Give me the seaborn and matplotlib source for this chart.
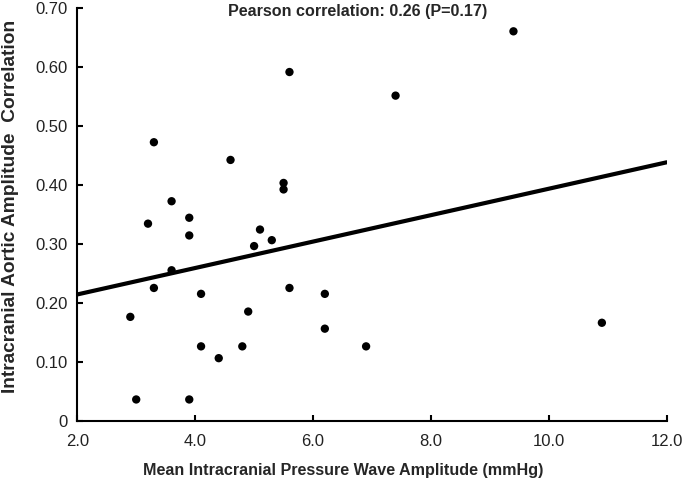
import numpy as np
import pandas as pd
import matplotlib
matplotlib.use("Agg")
import matplotlib.pyplot as plt
import seaborn as sns

# values
icp_amp = [5.6, 3.3, 4.6, 5.5, 5.5, 3.6, 3.2, 3.9, 3.9, 5.1, 5.3, 5.0,
           3.6, 3.3, 2.9, 4.1, 5.6, 6.2, 6.2, 4.9, 4.1, 4.4, 4.8, 3.0,
           3.9, 7.4, 9.4, 6.9, 10.9]
aortic_corr = [0.592, 0.473, 0.443, 0.404, 0.393, 0.373, 0.335, 0.345, 0.315,
               0.325, 0.307, 0.297, 0.256, 0.226, 0.177, 0.216, 0.226, 0.216,
               0.157, 0.186, 0.127, 0.107, 0.127, 0.037, 0.037, 0.552, 0.661,
               0.127, 0.167]
fit_x = [2.0, 12.0]
fit_y = [0.215, 0.439]

x_ticks = [2, 4, 6, 8, 10, 12]
x_ticklabels = ["2.0", "4.0", "6.0", "8.0", "10.0", "12.0"]
y_ticks = [0, 0.1, 0.2, 0.3, 0.4, 0.5, 0.6, 0.7]
y_ticklabels = ["0", "0.10", "0.20", "0.30", "0.40", "0.50", "0.60", "0.70"]

df = pd.DataFrame({"icp": icp_amp, "corr": aortic_corr})
fit = pd.DataFrame({"x": fit_x, "y": fit_y})

sns.set_theme(style="ticks")
plt.rcParams['font.family'] = ['Liberation Sans', 'DejaVu Sans']

fig = plt.figure(figsize=(6.85, 4.8), dpi=100)
ax = fig.add_axes([0.1128, 0.1223, 0.8605, 0.8604])

sns.lineplot(data=fit, x="x", y="y", ax=ax, color="black", linewidth=3.0)
sns.scatterplot(data=df, x="icp", y="corr", ax=ax, color="black", s=36,
                edgecolor="none", zorder=3)

ax.set_xlim(2, 12)
ax.set_ylim(0, 0.7)
ax.set_xticks(x_ticks)
ax.set_xticklabels(x_ticklabels)
ax.set_yticks(y_ticks)
ax.set_yticklabels(y_ticklabels)
ax.tick_params(direction="in", length=4, width=1.5, labelsize=12,
               colors="black", labelcolor="#222222")
ax.tick_params(axis="x", pad=9)
ax.tick_params(axis="y", pad=7)
for side in ["left", "bottom"]:
    ax.spines[side].set_linewidth(1.5)
    ax.spines[side].set_color("black")
sns.despine(ax=ax)

ax.set_xlabel("")
ax.set_ylabel("")
fig.text(0.501, 0.0104, "Mean Intracranial Pressure Wave Amplitude (mmHg)",
         ha="center", va="baseline", fontsize=11.6, fontweight="bold")
fig.text(0.003, 0.569, "Intracranial Aortic Amplitude  Correlation",
         ha="left", va="center", rotation=90, fontsize=13.8, fontweight="bold")
fig.text(0.3328, 0.9667, "Pearson correlation: 0.26 (P=0.17)",
         ha="left", va="baseline", fontsize=11.6, fontweight="bold")

fig.savefig("out.png", dpi=100)
